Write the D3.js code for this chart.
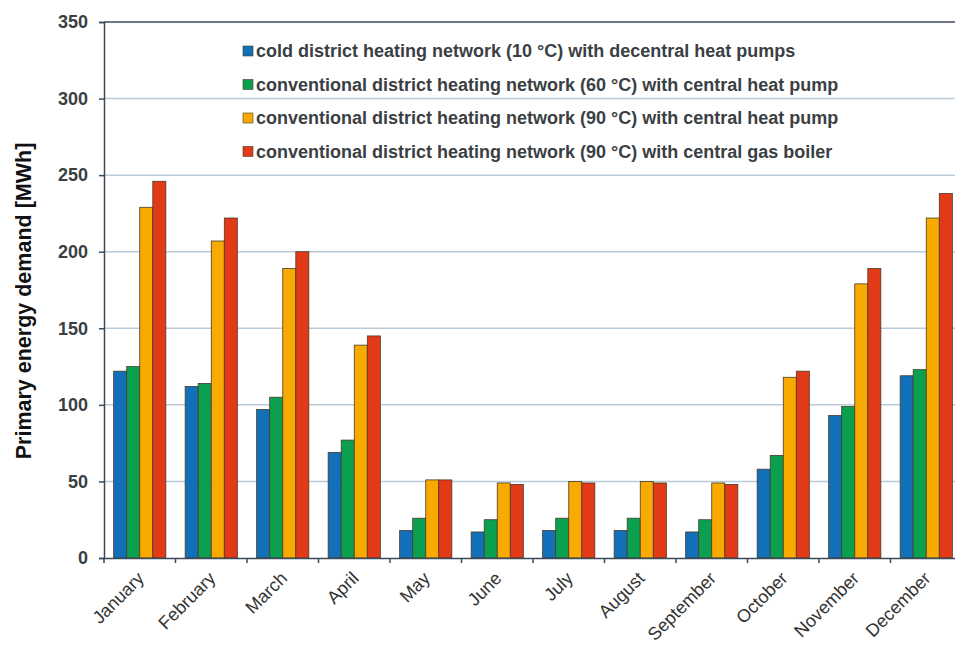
<!DOCTYPE html>
<html>
<head>
<meta charset="utf-8">
<script src="https://cdn.jsdelivr.net/npm/d3@7"></script>
<style>
  body { margin: 0; background: #fff; }
  svg { display: block; font-family: "Liberation Sans", Arial, sans-serif; }
</style>
</head>
<body>
<div id="chart"></div>
<script>
// Months on the x axis
var months = ["January", "February", "March", "April", "May", "June", "July",
              "August", "September", "October", "November", "December"];

// Series names (legend order)
var seriesNames = [
    "cold district heating network (10 °C) with decentral heat pumps",
    "conventional district heating network (60 °C) with central heat pump",
    "conventional district heating network (90 °C) with central heat pump",
    "conventional district heating network (90 °C) with central gas boiler"
];

// Primary energy demand [MWh]
var coldDecentral = [122, 112, 97, 69, 18, 17, 18, 18, 17, 58, 93, 119];
var conv60HeatPump = [125, 114, 105, 77, 26, 25, 26, 26, 25, 67, 99, 123];
var conv90HeatPump = [229, 207, 189, 139, 51, 49, 50, 50, 49, 118, 179, 222];
var conv90GasBoiler = [246, 222, 200, 145, 51, 48, 49, 49, 48, 122, 189, 238];

var yTicks = [0, 50, 100, 150, 200, 250, 300, 350];
var colors = ["#1170b8", "#0aa050", "#f8aa00", "#e23a17"];

var seriesValues = [coldDecentral, conv60HeatPump, conv90HeatPump, conv90GasBoiler];

var width = 955, height = 646;
var plotLeft = 104, plotRight = 962, plotTop = 22, plotBottom = 558;
var axisColor = '#3b4a58';

var svg = d3.select('#chart').append('svg')
    .attr('width', width)
    .attr('height', height);

var x0 = d3.scaleBand().domain(months).range([plotLeft, plotRight])
    .paddingInner(0.27).paddingOuter(0.135);
var x1 = d3.scaleBand().domain(d3.range(seriesNames.length)).range([0, x0.bandwidth()]);
var y = d3.scaleLinear().domain([0, 350]).range([plotBottom, plotTop]);

// Grid lines
svg.append('g')
    .selectAll('line')
    .data(yTicks.filter(function(d) { return d > 0 && d < 350; }))
    .enter().append('line')
    .attr('x1', plotLeft).attr('x2', plotRight)
    .attr('y1', function(d) { return y(d); })
    .attr('y2', function(d) { return y(d); })
    .attr('stroke', '#b9cad9')
    .attr('stroke-width', 1.5);

// Top frame line
svg.append('line')
    .attr('x1', plotLeft).attr('x2', plotRight)
    .attr('y1', plotTop).attr('y2', plotTop)
    .attr('stroke', axisColor).attr('stroke-width', 1.5);

// Bars
var groups = svg.append('g').selectAll('g')
    .data(months)
    .enter().append('g')
    .attr('transform', function(d) { return 'translate(' + x0(d) + ',0)'; });

groups.selectAll('rect')
    .data(function(m, i) { return seriesValues.map(function(s, k) { return { k: k, v: s[i] }; }); })
    .enter().append('rect')
    .attr('x', function(d) { return x1(d.k); })
    .attr('width', x1.bandwidth())
    .attr('y', function(d) { return y(d.v); })
    .attr('height', function(d) { return y(0) - y(d.v); })
    .attr('fill', function(d) { return colors[d.k]; })
    .attr('stroke', '#4a3a2a')
    .attr('stroke-width', 0.8);

// Y axis
var yAxis = svg.append('g')
    .attr('transform', 'translate(' + plotLeft + ',0)')
    .call(d3.axisLeft(y).tickValues(yTicks).tickSize(5).tickPadding(11));
yAxis.select('.domain').attr('stroke', axisColor).attr('stroke-width', 1.5);
yAxis.selectAll('.tick line').attr('stroke', axisColor).attr('stroke-width', 1.5);
yAxis.selectAll('.tick text')
    .style('font-size', '18px')
    .style('font-weight', 'bold')
    .style('font-family', '"Liberation Sans", Arial, sans-serif')
    .attr('fill', '#3a3f44');

// X axis line
var xAxis = svg.append('g')
    .attr('transform', 'translate(0,' + plotBottom + ')')
    .call(d3.axisBottom(x0).tickSize(0).tickFormat(''));
xAxis.select('.domain').attr('stroke', axisColor).attr('stroke-width', 1.5);
xAxis.selectAll('.tick').remove();

// Tick marks at band boundaries
svg.append('g').selectAll('line')
    .data(months)
    .enter().append('line')
    .attr('x1', function(d) { return x0(d) - x0.step() * 0.135; })
    .attr('x2', function(d) { return x0(d) - x0.step() * 0.135; })
    .attr('y1', plotBottom).attr('y2', plotBottom + 5)
    .attr('stroke', axisColor).attr('stroke-width', 1.5);

// Month labels, rotated
svg.append('g').selectAll('text')
    .data(months)
    .enter().append('text')
    .attr('transform', function(d) {
        return 'translate(' + (x0(d) + x0.bandwidth() / 2 + 1) + ',' + (plotBottom + 17) + ') rotate(-45)';
    })
    .attr('text-anchor', 'end')
    .attr('dy', '0.35em')
    .style('font-size', '18px')
    .attr('fill', '#333')
    .text(function(d) { return d; });

// Y axis title
svg.append('text')
    .attr('transform', 'translate(31,301) rotate(-90)')
    .attr('text-anchor', 'middle')
    .style('font-size', '21.5px')
    .style('font-weight', 'bold')
    .attr('fill', '#111')
    .text('Primary energy demand [MWh]');

// Legend
var legend = svg.append('g').selectAll('g')
    .data(seriesNames)
    .enter().append('g')
    .attr('transform', function(d, i) { return 'translate(243,' + (51 + i * 33.5) + ')'; });

legend.append('rect')
    .attr('x', 0).attr('y', -5)
    .attr('width', 10).attr('height', 10)
    .attr('fill', function(d, i) { return colors[i]; })
    .attr('stroke', '#4a3a2a')
    .attr('stroke-width', 0.6);

legend.append('text')
    .attr('x', 13)
    .attr('dy', '0.35em')
    .style('font-size', '18px')
    .style('font-weight', 'bold')
    .attr('fill', '#3a3f44')
    .text(function(d) { return d; });
</script>
</body>
</html>
